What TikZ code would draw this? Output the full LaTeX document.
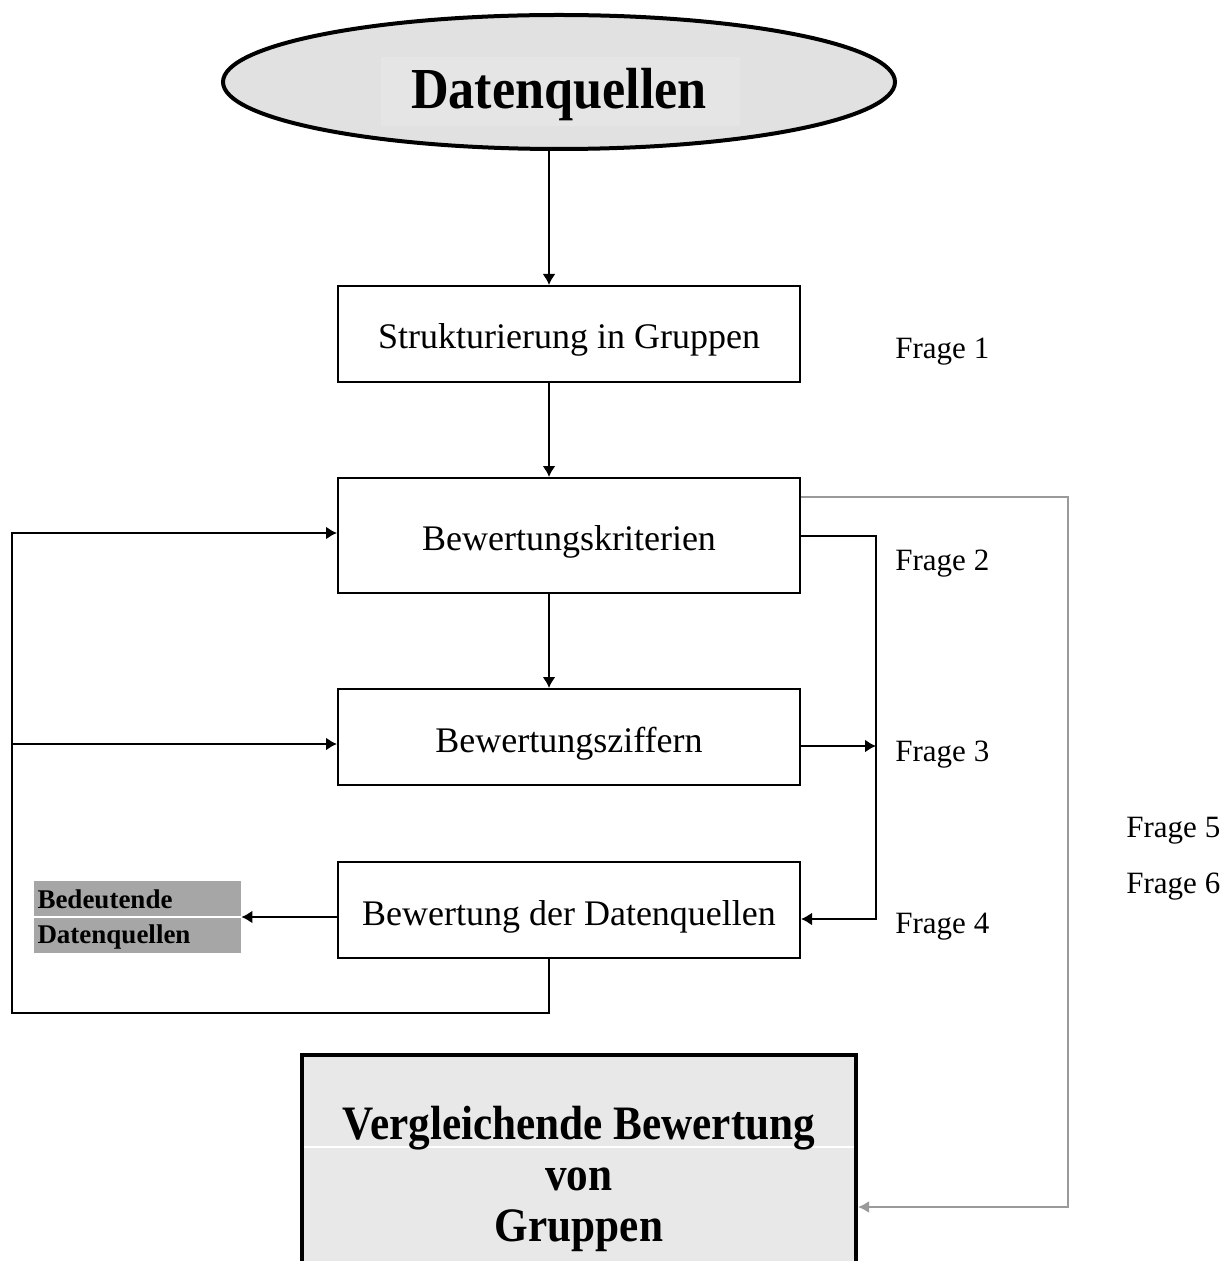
\documentclass[tikz,border=0pt]{standalone}
\usepackage{fontspec}
\setmainfont{Liberation Serif}
\newfontfamily\condserif{Liberation Serif}[FakeStretch=0.9]
\usetikzlibrary{arrows.meta,shapes.geometric,calc}
\definecolor{ellfill}{HTML}{E1E1E1}
\definecolor{ellrect}{HTML}{E5E5E5}
\definecolor{boxgray}{HTML}{E8E8E8}
\definecolor{bdgray}{HTML}{A6A6A6}
\definecolor{linegray}{HTML}{9A9A9A}
\begin{document}
\begin{tikzpicture}[x=0.5pt,y=-0.5pt,
  box/.style={draw,line width=1pt,minimum width=231pt,minimum height=48pt,inner sep=0pt,
    text height=19pt,text depth=4pt,font=\fontsize{18}{21}\selectfont},
  conn/.style={line width=1pt},
  arr/.style={conn,-{Latex[length=5.5pt,width=6.5pt]}},
  grayarr/.style={line width=1pt,draw=linegray,-{Latex[length=5.5pt,width=6pt]}},
  frage/.style={anchor=west,inner sep=0pt,font=\fontsize{15.5}{18}\selectfont}]
\useasboundingbox (0,0) rectangle (1224,1261);

% Ellipse
\node[ellipse,draw,line width=2pt,fill=ellfill,minimum width=336pt,minimum height=67pt,inner sep=0pt] (dq) at (559,82) {};
\fill[ellrect] (381,57) rectangle (740,126);
\node[font=\condserif\bfseries\fontsize{29}{34}\selectfont,inner sep=0pt] (dqt) at (559,95) {Datenquellen};

% Boxes
\node[box] (b1) at (569,334) {Strukturierung in Gruppen};
\node[box,minimum height=57.5pt] (b2) at (569,535.5) {Bewertungskriterien};
\node[box] (b3) at (569,737) {Bewertungsziffern};
\node[box] (b4) at (569,910) {Bewertung der Datenquellen};

% Frage labels
\node[frage] (f1) at (895,352) {Frage 1};
\node[frage] (f2) at (895,564) {Frage 2};
\node[frage] (f3) at (895,755) {Frage 3};
\node[frage] (f4) at (895,927) {Frage 4};
\node[frage] (f5) at (1126,831) {Frage 5};
\node[frage] (f6) at (1126,887) {Frage 6};

% Bedeutende Datenquellen
\node[fill=bdgray,minimum width=103.5pt,minimum height=36pt,inner sep=0pt] (bd) at (137.5,917) {};
\draw[white,line width=0.6pt] (bd.west) -- (bd.east);
\node[text width=101pt,inner sep=0pt,align=left,anchor=center,
      font=\bfseries\fontsize{13.5}{17.5}\selectfont] (bdt) at (138.5,919) {Bedeutende\\Datenquellen};

% Bottom box
\node[draw,line width=2pt,fill=white,minimum width=277pt,minimum height=122.5pt,inner sep=0pt] (vb) at (579,1177.5) {};
\fill[boxgray] ($(vb.north west)+(4,4)$) rectangle ($(vb.south east)+(-4,-4)$);
\coordinate (wl) at (0,1147);
\draw[white,line width=0.6pt] ($(vb.west |- wl)+(4,0)$) -- ($(vb.east |- wl)+(-4,0)$);
\node[align=center,inner sep=0pt,font=\condserif\bfseries\fontsize{24}{25.5}\selectfont] (vbt) at (579,1179) {Vergleichende Bewertung\\von\\Gruppen};

% Vertical main arrows
\coordinate (ax) at (549,0);
\draw[arr] (dq.south -| ax) -- (b1.north -| ax);
\draw[arr] (b1.south -| ax) -- (b2.north -| ax);
\draw[arr] (b2.south -| ax) -- (b3.north -| ax);

% Right black loop
\coordinate (r1) at (876,536);
\coordinate (r2) at (876,919);
\coordinate (r3) at (876,746);
\draw[arr] (b2.east |- r1) -- (r1) -- (r2) -- (b4.east |- r2);
\draw[arr] (b3.east |- r3) -- (r3);

% Gray connector
\coordinate (g1) at (1068,497);
\coordinate (g2) at (1068,1207);
\draw[grayarr] (b2.east |- g1) -- (g1) -- (g2) -- (vb.east |- g2);

% Left arrow to Bedeutende
\draw[arr] (b4.west |- bd.east) -- (bd.east);

% Left feedback loop
\coordinate (l1) at (549,1013);
\coordinate (l2) at (12,1013);
\coordinate (l3) at (12,533);
\coordinate (l4) at (12,744);
\draw[arr] (b4.south -| l1) -- (l1) -- (l2) -- (l3) -- (b2.west |- l3);
\draw[arr] (l4) -- (b3.west |- l4);
\end{tikzpicture}
\end{document}
